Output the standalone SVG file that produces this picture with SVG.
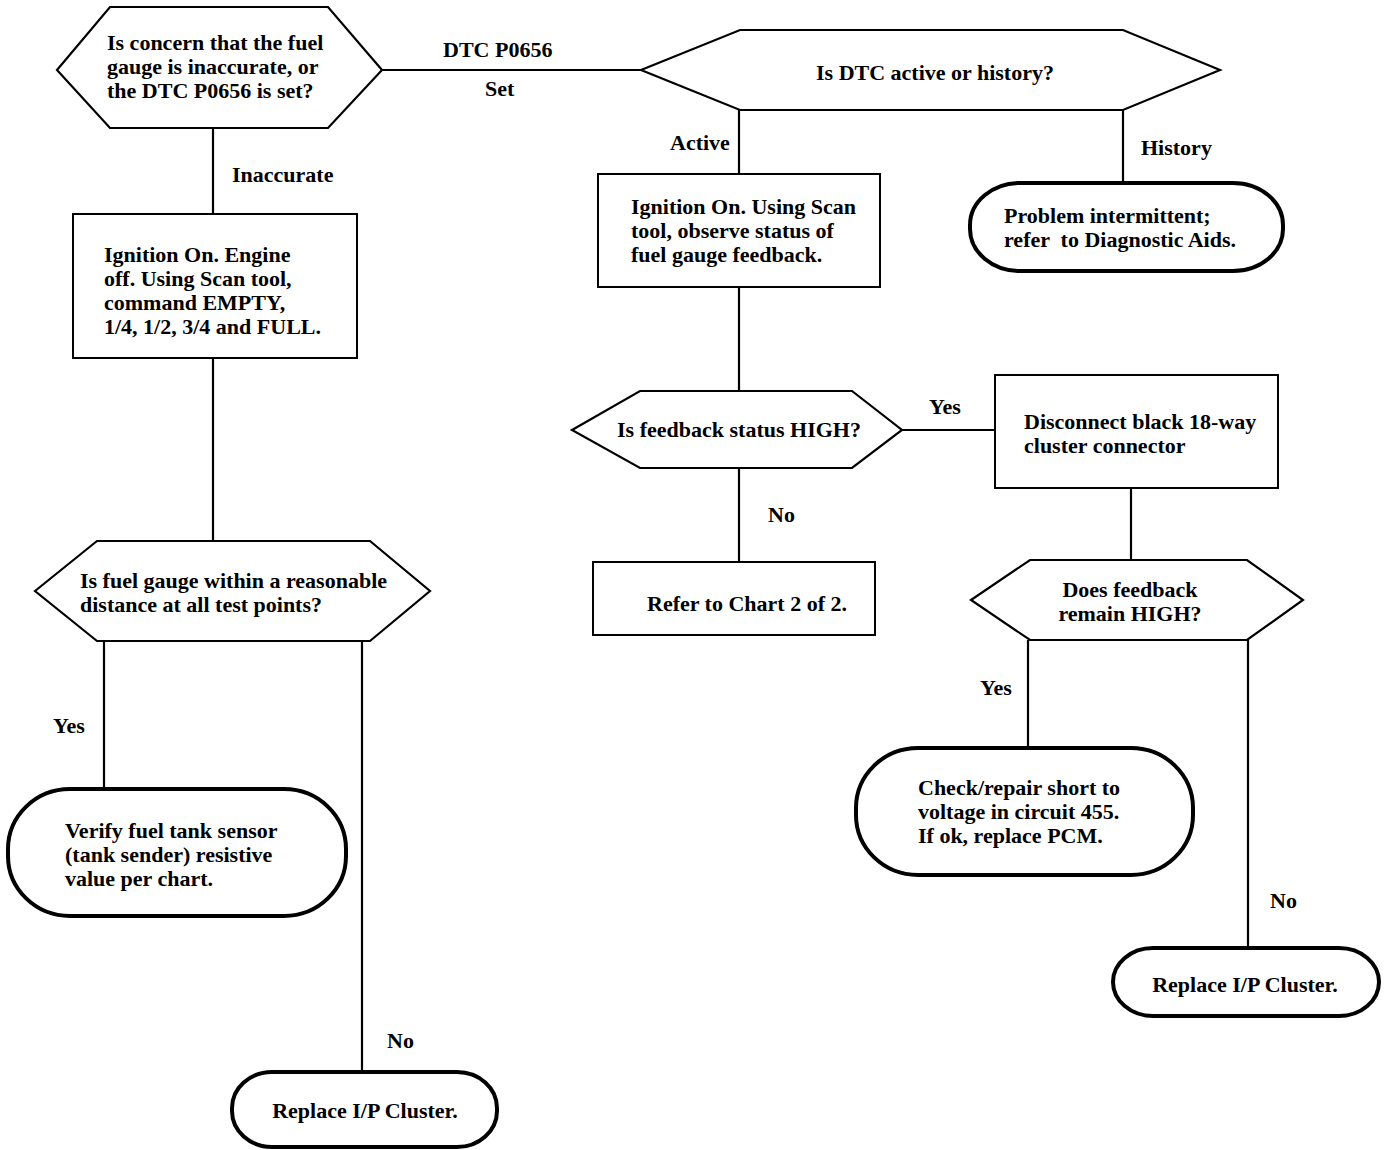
<svg xmlns="http://www.w3.org/2000/svg" width="1392" height="1150" viewBox="0 0 1392 1150">
<style>
text{font-family:"Liberation Serif","Times New Roman",serif;font-size:22px;font-weight:bold;fill:#000}
.c{text-anchor:middle}
.box{fill:#fff;stroke:#000;stroke-width:2}
.hex{fill:#fff;stroke:#000;stroke-width:2.2}
.term{fill:#fff;stroke:#000;stroke-width:4}
.ln{stroke:#000;stroke-width:2.2;fill:none}
</style>
<rect width="1392" height="1150" fill="#fff"/>
<g id="connectors">
<line class="ln" x1="382" y1="70" x2="641" y2="70"/>
<line class="ln" x1="739" y1="110" x2="739" y2="174"/>
<line class="ln" x1="1123" y1="110" x2="1123" y2="183"/>
<line class="ln" x1="739" y1="287" x2="739" y2="391"/>
<line class="ln" x1="902" y1="430" x2="995" y2="430"/>
<line class="ln" x1="739" y1="468" x2="739" y2="562"/>
<line class="ln" x1="1131" y1="488" x2="1131" y2="560"/>
<line class="ln" x1="1028" y1="640" x2="1028" y2="748"/>
<line class="ln" x1="1248" y1="640" x2="1248" y2="948"/>
<line class="ln" x1="213" y1="128" x2="213" y2="214"/>
<line class="ln" x1="213" y1="358" x2="213" y2="541"/>
<line class="ln" x1="104" y1="641" x2="104" y2="789"/>
<line class="ln" x1="362" y1="641" x2="362" y2="1072"/>
<text x="443" y="57">DTC P0656</text>
<text x="485" y="96">Set</text>
<text x="670" y="150">Active</text>
<text x="1141" y="155">History</text>
<text x="929" y="414">Yes</text>
<text x="768" y="522">No</text>
<text x="980" y="695">Yes</text>
<text x="1270" y="908">No</text>
<text x="232" y="182">Inaccurate</text>
<text x="53" y="733">Yes</text>
<text x="387" y="1048">No</text>
</g>
<g id="q1">
<polygon class="hex" points="57,70 110,7 328,7 382,70 328,128 110,128"/>
<text x="107" y="50">Is concern that the fuel</text>
<text x="107" y="74">gauge is inaccurate, or</text>
<text x="107" y="98">the DTC P0656 is set?</text>
</g>
<g id="q2">
<polygon class="hex" points="641,70 740,30 1123,30 1220,70 1123,110 740,110"/>
<text class="c" x="935" y="80">Is DTC active or history?</text>
</g>
<g id="b1">
<rect class="box" x="598" y="174" width="282" height="113"/>
<text x="631" y="214">Ignition On. Using Scan</text>
<text x="631" y="238">tool, observe status of</text>
<text x="631" y="262">fuel gauge feedback.</text>
</g>
<g id="t1">
<rect class="term" x="970" y="183" width="313" height="88" rx="50" ry="42"/>
<text x="1004" y="223">Problem intermittent;</text>
<text x="1004" y="247" xml:space="preserve">refer  to Diagnostic Aids.</text>
</g>
<g id="q3">
<polygon class="hex" points="572,430 640,391 852,391 902,430 852,468 640,468"/>
<text class="c" x="739" y="437">Is feedback status HIGH?</text>
</g>
<g id="b2">
<rect class="box" x="995" y="375" width="283" height="113"/>
<text x="1024" y="429">Disconnect black 18-way</text>
<text x="1024" y="453">cluster connector</text>
</g>
<g id="b3">
<rect class="box" x="593" y="562" width="282" height="73"/>
<text class="c" x="747" y="611">Refer to Chart 2 of 2.</text>
</g>
<g id="q4">
<polygon class="hex" points="971,600 1030,560 1247,560 1303,600 1247,640 1030,640"/>
<text class="c" x="1130" y="597">Does feedback</text>
<text class="c" x="1130" y="621">remain HIGH?</text>
</g>
<g id="t2">
<rect class="term" x="856" y="748" width="337" height="127" rx="62" ry="60"/>
<text x="918" y="795">Check/repair short to</text>
<text x="918" y="819">voltage in circuit 455.</text>
<text x="918" y="843">If ok, replace PCM.</text>
</g>
<g id="t3">
<rect class="term" x="1113" y="948" width="266" height="68" rx="40" ry="34"/>
<text class="c" x="1245" y="992">Replace I/P Cluster.</text>
</g>
<g id="b4">
<rect class="box" x="73" y="214" width="284" height="144"/>
<text x="104" y="262">Ignition On. Engine</text>
<text x="104" y="286">off. Using Scan tool,</text>
<text x="104" y="310">command EMPTY,</text>
<text x="104" y="334">1/4, 1/2, 3/4 and FULL.</text>
</g>
<g id="q5">
<polygon class="hex" points="35,591 97,541 370,541 430,591 370,641 97,641"/>
<text x="80" y="588">Is fuel gauge within a reasonable</text>
<text x="80" y="612">distance at all test points?</text>
</g>
<g id="t4">
<rect class="term" x="8" y="789" width="338" height="127" rx="62" ry="60"/>
<text x="65" y="838">Verify fuel tank sensor</text>
<text x="65" y="862">(tank sender) resistive</text>
<text x="65" y="886">value per chart.</text>
</g>
<g id="t5">
<rect class="term" x="232" y="1072" width="265" height="75" rx="40" ry="36"/>
<text class="c" x="365" y="1118">Replace I/P Cluster.</text>
</g>
</svg>
